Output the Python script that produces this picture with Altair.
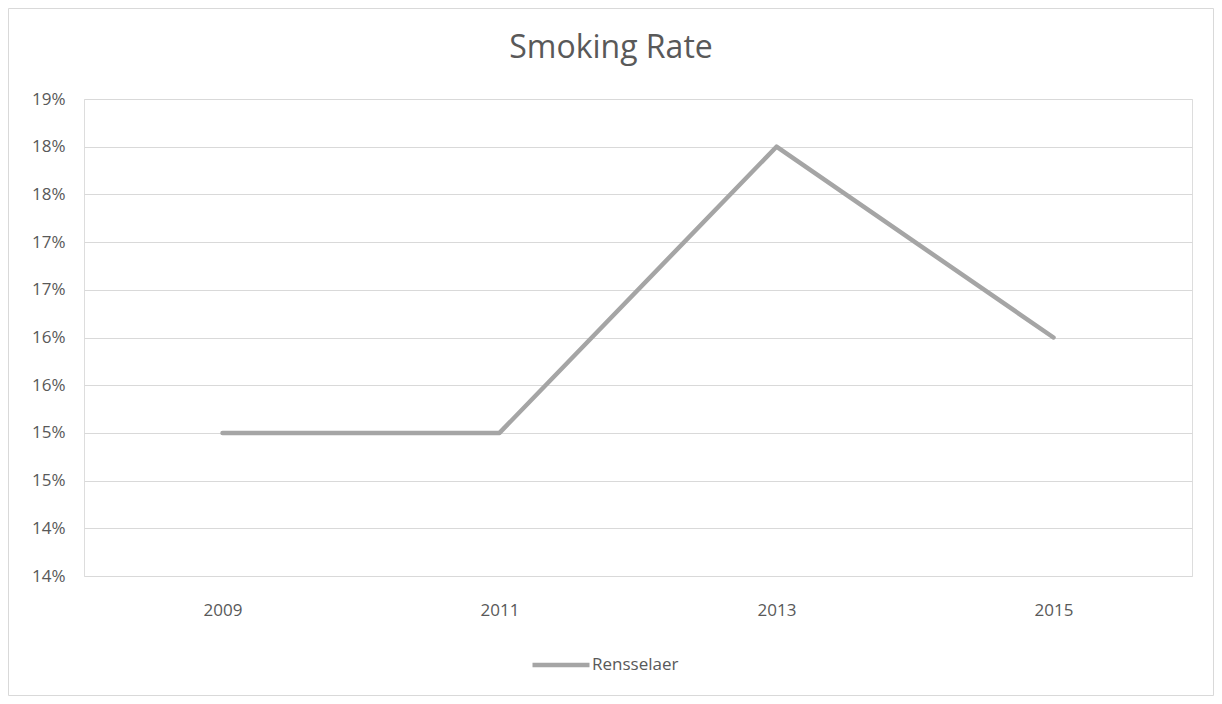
import altair as alt
import pandas as pd

years = ["2009", "2011", "2013", "2015"]
rates = [0.15, 0.15, 0.18, 0.16]
series = ["Rensselaer"] * 4

y_ticks = [0.135, 0.14, 0.145, 0.15, 0.155, 0.16, 0.165, 0.17, 0.175, 0.18, 0.185]
y_labels = ["14%", "14%", "15%", "15%", "16%", "16%", "17%", "17%", "18%", "18%", "19%"]

df = pd.DataFrame({"Year": years, "Rate": rates, "Series": series})

W, H = 1108, 477
PAD = {"left": 76, "top": 91, "right": 22, "bottom": 120}
FONT = "Open Sans"
TXT = "#595959"
LBL = 17

label_expr = "[" + ",".join("'%s'" % l for l in y_labels) + "][indexof([" + \
    ",".join(repr(v) for v in y_ticks) + "], datum.value)]"

line = alt.Chart(df).mark_line(strokeWidth=4.5, strokeCap="round", strokeJoin="round").encode(
    x=alt.X("Year:O", sort=years, title=None,
            scale=alt.Scale(type="point", padding=0.5),
            axis=alt.Axis(labelAngle=0, domain=False, ticks=False, tickSize=0, grid=False,
                          labelPadding=26, labelFontSize=LBL, labelColor=TXT, labelFont=FONT)),
    y=alt.Y("Rate:Q", title=None,
            scale=alt.Scale(domain=[y_ticks[0], y_ticks[-1]], nice=False, zero=False),
            axis=alt.Axis(values=y_ticks, labelExpr=label_expr, domain=False, ticks=False,
                          tickSize=0, grid=True, gridColor="#d9d9d9", gridWidth=1,
                          labelPadding=19, labelFontSize=LBL, labelColor=TXT, labelFont=FONT)),
    color=alt.Color("Series:N", scale=alt.Scale(range=["#a5a5a5"]),
                    legend=alt.Legend(title=None, orient="none", legendX=446, legendY=535,
                                      symbolType="stroke", symbolSize=3249, symbolStrokeWidth=4.5,
                                      labelFontSize=LBL, labelColor=TXT, labelFont=FONT,
                                      labelOffset=0, padding=0)),
)

frame_df = pd.DataFrame({"k": [0]})
frame = alt.Chart(frame_df).mark_rect(fill=None, stroke="#d9d9d9", strokeWidth=1).encode(
    x=alt.value(-PAD["left"] + 0.5), x2=alt.value(W + PAD["right"] - 0.5),
    y=alt.value(-PAD["top"] + 0.5), y2=alt.value(H + PAD["bottom"] - 0.5),
)

chart = alt.layer(frame, line).properties(
    width=W, height=H,
    title=alt.Title("Smoking Rate", fontSize=32, font=FONT, color=TXT, fontWeight="normal",
                    anchor="middle", offset=-57, dx=-27),
    autosize=alt.AutoSizeParams(type="none"),
    padding=PAD,
).configure_view(stroke=None).configure(background="white")

chart.save("out.html", embed_options={"renderer": "svg", "actions": False})
